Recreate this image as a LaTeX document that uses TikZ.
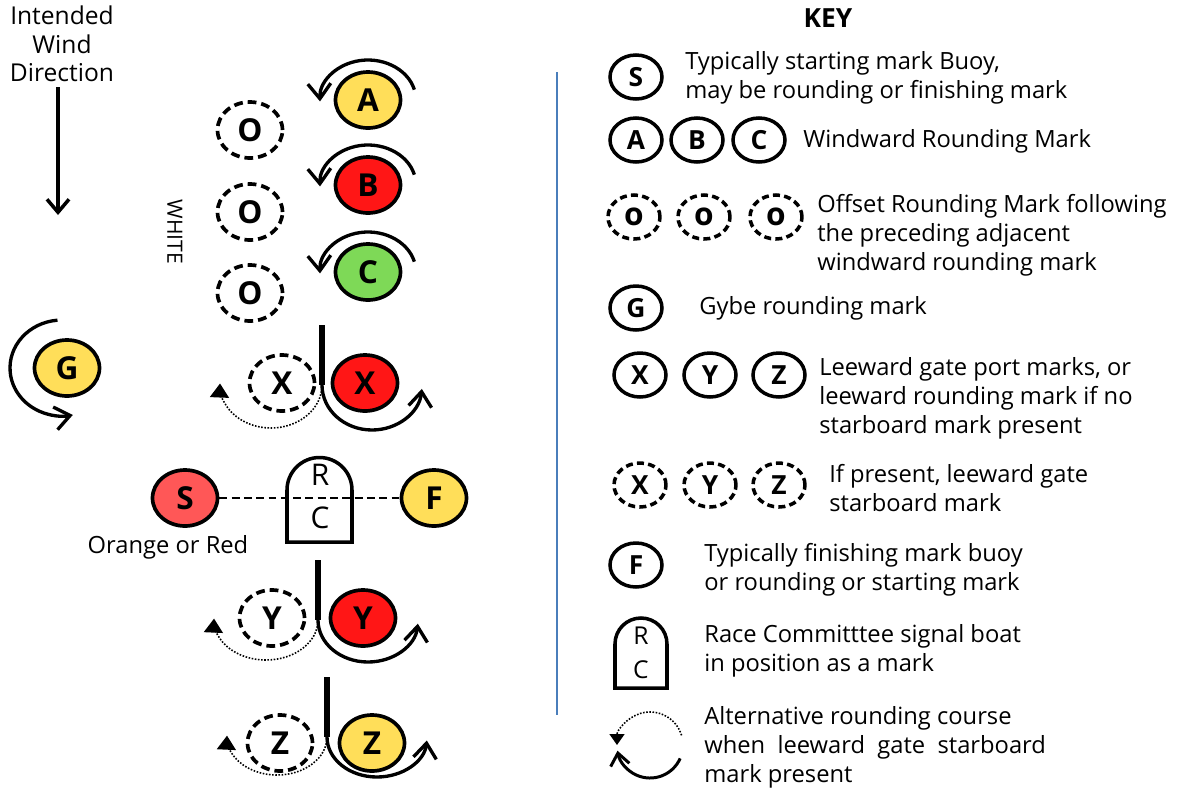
\documentclass[tikz,border=0pt]{standalone}
\usepackage{fontspec}
\setmainfont{Open Sans}
\usetikzlibrary{arrows.meta, shapes.geometric, positioning, calc}

\definecolor{markyellow}{HTML}{FFDE59}
\definecolor{markred}{HTML}{FF1616}
\definecolor{markgreen}{HTML}{7ED957}
\definecolor{markorange}{HTML}{FF5757}
\definecolor{keyblue}{HTML}{4A7EBB}

\begin{document}
\begin{tikzpicture}[x=0.02cm, y=0.02cm,
        buoy/.style={ellipse, draw, line width=2.1pt, minimum width=1.3cm, minimum height=1.12cm, inner sep=0pt, font=\fontsize{18}{18}\selectfont\bfseries},
        offmark/.style={buoy, dash pattern=on 5pt off 2.8pt},
        keybuoy/.style={ellipse, draw, line width=2pt, minimum width=1.04cm, minimum height=0.88cm, inner sep=0pt, font=\fontsize{15}{15}\selectfont\bfseries},
        keyoffmark/.style={keybuoy, dash pattern=on 4pt off 2.4pt},
        keytext/.style={anchor=west, inner sep=0pt, align=left, font=\fontsize{13.5}{16.5}\selectfont},
        gatepost/.style={line width=3pt},
        roundarrow/.style={line width=1.9pt, -{Straight Barb[length=3mm, width=4.6mm]}},
        altarrow/.style={line width=0.9pt, dash pattern=on 0.9pt off 0.9pt, -{Triangle[length=2.8mm, width=3.8mm]}}]
        \useasboundingbox (0,0) rectangle (1181,-789);

        % wind
        \node[align=center, inner sep=0pt, font=\fontsize{14}{16.3}\selectfont] (wind) at (62,-44) {Intended\\Wind\\Direction};
        \coordinate (windtop) at (58,-87);
        \coordinate (windend) at (58,-215);
        \draw[line width=2pt, -{Straight Barb[length=2.6mm, width=4.4mm]}] (windtop) -- (windend);
        \node[rotate=-90, inner sep=0pt, font=\fontsize{12}{12}\selectfont] (white) at (175,-232) {WHITE};

        % windward marks
        \node[buoy, fill=markyellow] (A) at (368,-100) {A};
        \node[buoy, fill=markred] (B) at (368,-185) {B};
        \node[buoy, fill=markgreen] (C) at (368,-272) {C};
        \foreach \m in {A,B,C}
                \draw[roundarrow] ([shift={(15:48 and 40)}]\m.center) arc[start angle=15, end angle=182, x radius=48, y radius=40];
        \foreach \y [count=\i] in {130,212,293}
                \node[offmark] (O\i) at (250,-\y) {O};

        % gybe mark
        \node[buoy, fill=markyellow] (G) at (67,-368) {G};
        \draw[roundarrow] ([shift={(95:52 and 48)}]62,-368) arc[start angle=95, end angle=282, x radius=52, y radius=48];

        % gate X
        \node[offmark] (Xs) at (282,-383) {X};
        \node[buoy, fill=markred] (Xp) at (365,-383) {X};
        \coordinate (Xtop) at (322,-325);
        \coordinate (Xbot) at (322,-385);
        \draw[gatepost] (Xtop) -- (Xbot);
        \draw[roundarrow] (Xbot) arc[start angle=180, end angle=355, x radius=50, y radius=45];
        \draw[altarrow] (Xbot) arc[start angle=0, end angle=-182, x radius=51, y radius=43];

        % start line
        \node[buoy, fill=markorange] (S) at (185,-498) {S};
        \node[buoy, fill=markyellow] (F) at (434,-498) {F};
        \draw[line width=1.4pt, dash pattern=on 4.5pt off 2.5pt] (S) -- (F);
        \draw[line width=2pt] (287,-542) -- (287,-490) arc[start angle=180, end angle=0, radius=32.5] -- (352,-542) -- cycle;
        \node[font=\fontsize{17}{17}\selectfont] (R) at (320,-475) {R};
        \node[font=\fontsize{17}{17}\selectfont] (RC) at (320,-518) {C};
        \node[font=\fontsize{13.5}{16}\selectfont] (orange) at (168,-547) {Orange or Red};

        % gate Y
        \node[offmark] (Ys) at (272,-618) {Y};
        \node[buoy, fill=markred] (Yp) at (363,-618) {Y};
        \coordinate (Ytop) at (318,-560);
        \coordinate (Ybot) at (318,-620);
        \draw[gatepost] (Ytop) -- (Ybot);
        \draw[roundarrow] (Ybot) arc[start angle=180, end angle=355, x radius=50, y radius=42];
        \draw[altarrow] (Ybot) arc[start angle=0, end angle=-182, x radius=52, y radius=40];

        % gate Z
        \node[offmark] (Zs) at (280,-743) {Z};
        \node[buoy, fill=markyellow] (Zp) at (372,-743) {Z};
        \coordinate (Ztop) at (327,-677);
        \coordinate (Zbot) at (327,-737);
        \draw[gatepost] (Ztop) -- (Zbot);
        \draw[roundarrow] (Zbot) arc[start angle=180, end angle=355, x radius=50, y radius=40];
        \draw[altarrow] (Zbot) arc[start angle=0, end angle=-182, x radius=50, y radius=38];

        % key
        \coordinate (septop) at (557,-72);
        \coordinate (sepbot) at (557,-715);
        \draw[keyblue, line width=1pt] (septop) -- (sepbot);
        \node[font=\fontsize{15}{15}\selectfont\bfseries] (key) at (828,-18) {KEY};

        \node[keybuoy] (kS) at (636,-77) {S};
        \node[keytext] (tS) at (685,-77.5) {Typically starting mark Buoy,\\may be rounding or finishing mark};
        \foreach \n/\x in {A/636,B/697,C/759}
                \node[keybuoy] (k\n) at (\x,-140) {\n};
        \node[keytext] (tABC) at (803,-141) {Windward Rounding Mark};
        \foreach \x [count=\i] in {634,704,776}
                \node[keyoffmark, font=\fontsize{18}{18}\selectfont\bfseries] (kO\i) at (\x,-217) {o};
        \node[keytext] (tO) at (817,-235) {Offset Rounding Mark following\\the preceding adjacent\\windward rounding mark};
        \node[keybuoy] (kG) at (636,-308) {G};
        \node[keytext] (tG) at (699,-308) {Gybe rounding mark};
        \foreach \n/\x in {X/640,Y/710,Z/779}
                \node[keybuoy] (kp\n) at (\x,-375) {\n};
        \node[keytext] (tP) at (819,-398) {Leeward gate port marks, or\\leeward rounding mark if no\\starboard mark present};
        \foreach \n/\x in {X/640,Y/710,Z/779}
                \node[keyoffmark] (ks\n) at (\x,-485) {\n};
        \node[keytext] (tSb) at (829,-488) {If present, leeward gate\\starboard mark};
        \node[keybuoy] (kF) at (636,-565) {F};
        \node[keytext] (tF) at (704,-569.5) {Typically finishing mark buoy\\or rounding or starting mark};
        \draw[line width=2pt] (615,-688) -- (615,-644) arc[start angle=180, end angle=0, radius=26] -- (667,-688) -- cycle;
        \node[font=\fontsize{14}{14}\selectfont] (kR) at (641,-636) {R};
        \node[font=\fontsize{14}{14}\selectfont] (kC) at (641,-670) {C};
        \node[keytext] (tRC) at (704,-650.5) {Race Committtee signal boat\\in position as a mark};
        \coordinate (kalt) at (650,-745);
        \draw[altarrow, -{Triangle[length=2.2mm, width=3mm]}] ([shift={(17:33)}]kalt) arc[start angle=17, end angle=180, radius=33];
        \draw[line width=1.7pt, -{Straight Barb[length=2.4mm, width=3.8mm]}] ([shift={(-24:33)}]kalt) arc[start angle=-24, end angle=-170, radius=33];
        \node[keytext] (tAlt) at (704,-747.7) {Alternative rounding course\\when\ \ leeward\ \ gate\ \ starboard\\mark present};
\end{tikzpicture}
\end{document}
